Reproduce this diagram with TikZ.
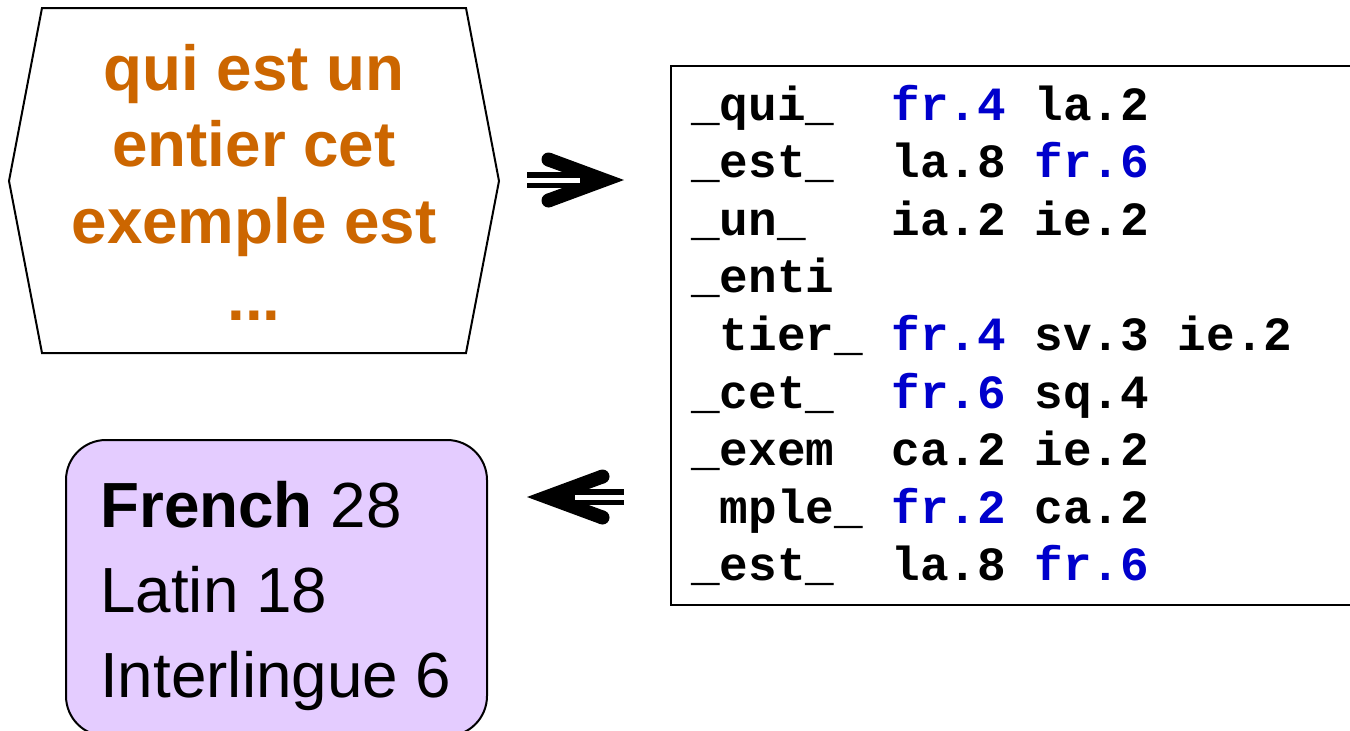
\documentclass[tikz,border=0pt]{standalone}
\usepackage{fontspec}
\setmainfont{Liberation Sans}
\setmonofont{Liberation Mono}
\definecolor{ochre}{HTML}{CC6600}
\definecolor{codeblue}{HTML}{0000CC}
\definecolor{lilac}{HTML}{E4CCFF}
\newcommand\frtag[1]{\textcolor{codeblue}{#1}}

\begin{document}
\begin{tikzpicture}[x=1pt, y=-1pt,
  outline/.style={draw=black, line width=2pt},
  shaft/.style={draw=black, line width=5.5pt, double=white, double distance=5pt},
  headfill/.style={fill=black},
  querytext/.style={font=\fontsize{63.7}{76.7}\selectfont\bfseries, text=ochre, inner sep=0pt, anchor=base},
  codetext/.style={font=\fontsize{47.7}{57.6}\selectfont\ttfamily\bfseries, inner sep=0pt, anchor=base west},
  counttext/.style={font=\fontsize{63.8}{85}\selectfont, inner sep=0pt, anchor=base west},
  tallybox/.style={outline, fill=lilac, rounded corners=40pt, minimum width=421pt, minimum height=296pt, inner sep=0pt},
  gramsbox/.style={outline, fill=white, minimum width=689pt, minimum height=539pt, inner sep=0pt}
]
\useasboundingbox (0,0) rectangle (1350,731);

% input text in a hexagonal frame
\coordinate (h1) at (42,8);
\coordinate (h2) at (466,8);
\coordinate (h3) at (499,181);
\coordinate (h4) at (466,353);
\coordinate (h5) at (42,353);
\coordinate (h6) at (9,181);
\draw[outline, line join=miter] (h1) -- (h2) -- (h3) -- (h4) -- (h5) -- (h6) -- cycle;
\node[querytext] (query) at (254,90) {\begin{tabular}[t]{c}qui est un\\entier cet\\exemple est\\...\end{tabular}};

% n-gram table
\node[gramsbox] (grams) at (1015.5,335.5) {};
\node[codetext] (rows) at (691,120) {\begin{tabular}[t]{@{}l@{}}
\_qui\_~~\frtag{fr.4}~la.2\\
\_est\_~~la.8~\frtag{fr.6}\\
\_un\_~~~ia.2~ie.2\\
\_enti\\
~tier\_~\frtag{fr.4}~sv.3~ie.2\\
\_cet\_~~\frtag{fr.6}~sq.4\\
\_exem~~ca.2~ie.2\\
~mple\_~\frtag{fr.2}~ca.2\\
\_est\_~~la.8~\frtag{fr.6}
\end{tabular}};

% language tally
\node[tallybox] (tally) at (276.5,588) {};
\node[counttext] (counts) at (100,527) {\begin{tabular}[t]{@{}l@{}}
\textbf{French} 28\\
Latin 18\\
Interlingue 6
\end{tabular}};

% arrow from the text to the table: barbed head with round-ended barbs
\coordinate (rtail) at (527,180);
\coordinate (rjoin) at (580,180);
\coordinate (rtip) at (624,180);
\coordinate (ra) at (551,153);
\coordinate (rb) at (546,166);
\coordinate (rc) at (565,173);
\coordinate (rd) at (565,187);
\coordinate (re) at (546,194);
\coordinate (rf) at (551,207);
\fill[headfill] (rtip) -- (ra) -- (rb) -- (rc) -- (rd) -- (re) -- (rf) -- cycle;
\fill[headfill] (548.5,159.5) circle[radius=7pt] (548.5,200.5) circle[radius=7pt];
\draw[shaft] (rtail) -- (rjoin);

% arrow from the table back to the tally
\coordinate (ltail) at (624,497);
\coordinate (ljoin) at (575,497);
\coordinate (ltip) at (527,497);
\coordinate (la) at (600,470);
\coordinate (lb) at (605,483);
\coordinate (lc) at (586,490);
\coordinate (ld) at (586,504);
\coordinate (le) at (605,511);
\coordinate (lf) at (600,524);
\fill[headfill] (ltip) -- (la) -- (lb) -- (lc) -- (ld) -- (le) -- (lf) -- cycle;
\fill[headfill] (602.5,476.5) circle[radius=7pt] (602.5,517.5) circle[radius=7pt];
\draw[shaft] (ltail) -- (ljoin);
\end{tikzpicture}
\end{document}
